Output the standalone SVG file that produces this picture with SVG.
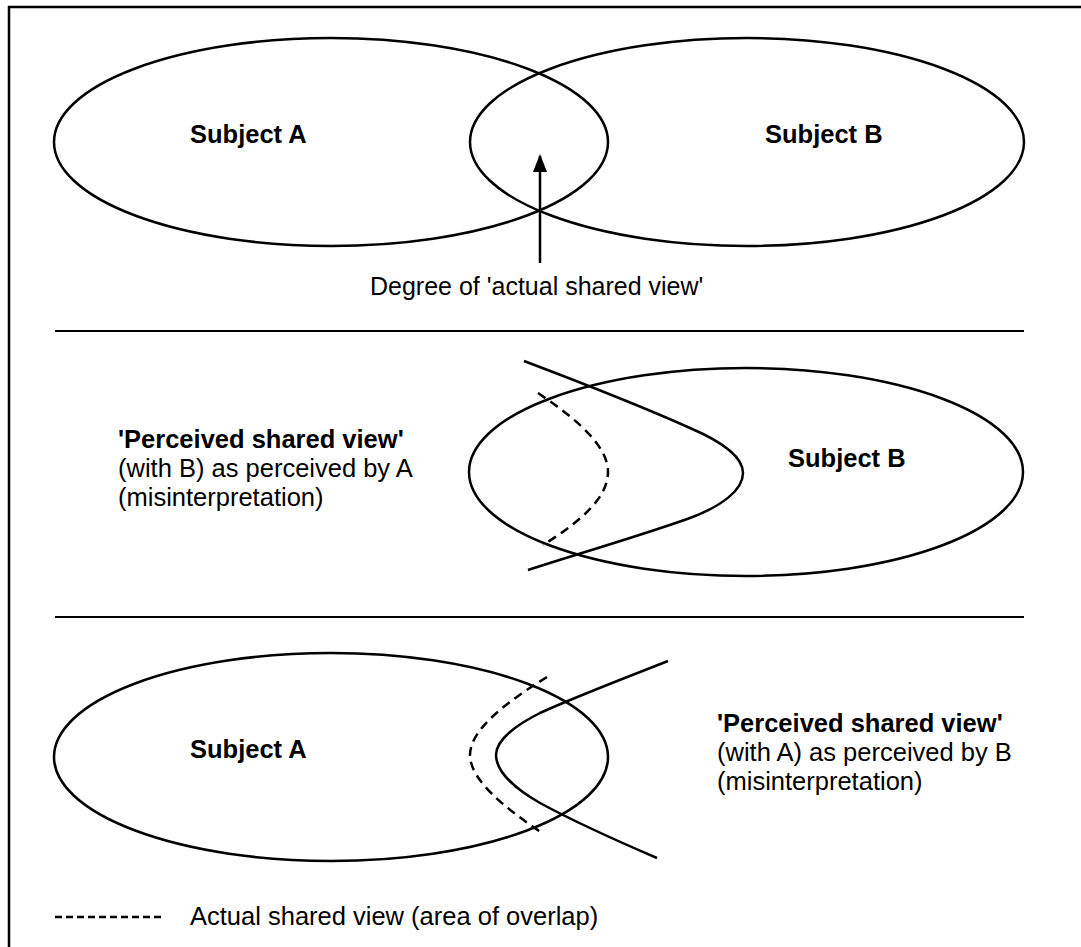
<svg xmlns="http://www.w3.org/2000/svg" width="1081" height="947" viewBox="0 0 1081 947">
<style>
.ln{fill:none;stroke:#000;stroke-width:2.5}
.dash{fill:none;stroke:#000;stroke-width:2.5;stroke-dasharray:9,6}
.sep{fill:none;stroke:#000;stroke-width:2}
text{font-family:"Liberation Sans",Arial,sans-serif;font-size:25.5px;fill:#000}
.b{font-weight:bold}
</style>
<defs>
<marker id="ah" markerWidth="18" markerHeight="14" refX="16" refY="7" orient="auto" markerUnits="userSpaceOnUse" viewBox="0 0 18 14">
<path d="M0,0 L18,7 L0,14 Z" fill="#000"/>
</marker>
</defs>
<rect width="1081" height="947" fill="#fff"/>
<g id="frame">
<path class="ln" d="M9,947 L9,7 L1081,7" stroke-width="3"/>
<line class="sep" x1="55" y1="331" x2="1024" y2="331"/>
<line class="sep" x1="55" y1="617" x2="1024" y2="617"/>
</g>
<g id="top-subjectA">
<ellipse class="ln" cx="331" cy="142" rx="277" ry="104"/>
<text class="b" x="190" y="143">Subject A</text>
</g>
<g id="top-subjectB">
<ellipse class="ln" cx="747" cy="142" rx="277" ry="104"/>
<text class="b" x="765" y="143">Subject B</text>
</g>
<g id="degree-label">
<text x="370" y="295" style="font-size:25px">Degree of 'actual shared view'</text>
</g>
<g id="mid-subjectB">
<ellipse class="ln" cx="746" cy="472" rx="277" ry="104"/>
<text class="b" x="788" y="467">Subject B</text>
</g>
<g id="mid-perceived">
<path class="ln" d="M524,361 C590,386 650,410 690,428 C725,443 743,458 743,473 C743,490 722,506 690,518 C640,536 580,553 528,570"/>
<text x="118" y="448"><tspan class="b">'Perceived shared view'</tspan></text>
<text x="118" y="477">(with B) as perceived by A</text>
<text x="118" y="506">(misinterpretation)</text>
</g>
<g id="bot-subjectA">
<ellipse class="ln" cx="331" cy="757" rx="277" ry="104"/>
<text class="b" x="190" y="758">Subject A</text>
</g>
<g id="bot-perceived">
<path class="ln" d="M668,661 C620,680 575,697 540,713 C512,727 496,742 496,755 C496,770 512,787 540,803 C575,822 615,840 657,858"/>
<text x="717" y="732"><tspan class="b">'Perceived shared view'</tspan></text>
<text x="717" y="761">(with A) as perceived by B</text>
<text x="717" y="790">(misinterpretation)</text>
</g>
<g id="legend">
<line x1="55" y1="917" x2="165" y2="917" stroke="#000" stroke-width="2.5" stroke-dasharray="7,4"/>
<text x="190" y="925">Actual shared view (area of overlap)</text>
</g>
<g id="connectors">
<line class="ln" x1="540" y1="263" x2="540" y2="156" marker-end="url(#ah)"/>
<path class="dash" d="M538,393 C575,418 608,445 608,472 C608,500 575,525 543,545"/>
<path class="dash" d="M547,677 C505,703 470,730 470,755 C470,780 505,808 542,833"/>
</g>
</svg>
